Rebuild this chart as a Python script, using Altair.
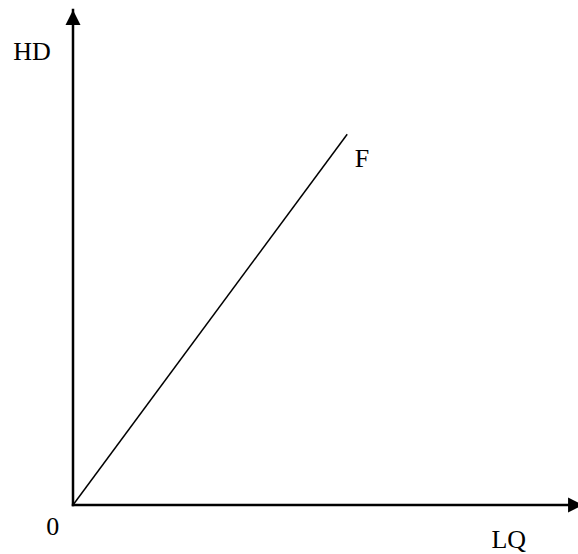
import altair as alt
import pandas as pd

# Curve F: a straight line rising from the origin
f_x = [0.0, 5.43]
f_y = [0.0, 7.49]

# Axis lines from the origin to their arrow tips
axis_x_from = [0.0, 0.0]
axis_y_from = [0.0, 0.0]
axis_x_to = [10.1, 0.0]
axis_y_to = [0.0, 10.0]

# Text labels and where they sit
label_text = ["HD", "F", "0", "LQ"]
label_x = [-0.81, 5.72, -0.40, 8.63]
label_y = [9.15, 6.99, -0.44, -0.71]

xs = alt.Scale(domain=[0, 10], nice=False, zero=False)
ys = alt.Scale(domain=[0, 10], nice=False, zero=False)

axes_df = pd.DataFrame({"x": axis_x_from, "y": axis_y_from, "x2": axis_x_to, "y2": axis_y_to})
f_df = pd.DataFrame({"x": f_x, "y": f_y})
lab_df = pd.DataFrame({"t": label_text, "x": label_x, "y": label_y})
tip_x_df = pd.DataFrame({"x": [axis_x_to[0]], "y": [axis_y_to[0]]})
tip_y_df = pd.DataFrame({"x": [axis_x_to[1]], "y": [axis_y_to[1]]})

axes = alt.Chart(axes_df).mark_rule(color="black", strokeWidth=2.5, strokeCap="square").encode(
    x=alt.X("x:Q", scale=xs, axis=None),
    y=alt.Y("y:Q", scale=ys, axis=None),
    x2="x2:Q",
    y2="y2:Q",
)

arrow_path = "M0,0L-1,2L1,2Z"
tip_y = alt.Chart(tip_y_df).mark_point(
    shape=arrow_path, filled=True, color="black", opacity=1, size=225, strokeWidth=0
).encode(x=alt.X("x:Q", scale=xs, axis=None), y=alt.Y("y:Q", scale=ys, axis=None))
tip_x = alt.Chart(tip_x_df).mark_point(
    shape=arrow_path, filled=True, color="black", opacity=1, size=225, strokeWidth=0, angle=90
).encode(x=alt.X("x:Q", scale=xs, axis=None), y=alt.Y("y:Q", scale=ys, axis=None))

f_line = alt.Chart(f_df).mark_line(color="black", strokeWidth=1.5).encode(
    x=alt.X("x:Q", scale=xs, axis=None),
    y=alt.Y("y:Q", scale=ys, axis=None),
)

labels = alt.Chart(lab_df).mark_text(
    font="Liberation Serif", fontSize=26, color="black", align="center", baseline="middle"
).encode(
    x=alt.X("x:Q", scale=xs, axis=None),
    y=alt.Y("y:Q", scale=ys, axis=None),
    text="t:N",
)

chart = (
    alt.layer(axes, f_line, tip_x, tip_y, labels)
    .properties(
        width=505,
        height=495,
        padding={"left": 73, "right": 0, "top": 10, "bottom": 49},
        autosize=alt.AutoSizeParams(type="none"),
        background="white",
    )
    .configure_view(stroke=None)
)

chart.save("out.html", embed_options={"renderer": "svg", "actions": False})
